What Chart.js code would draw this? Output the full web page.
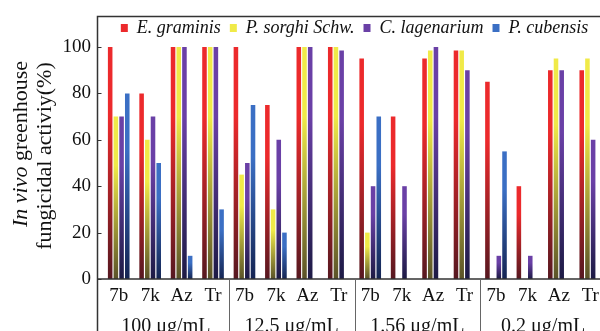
<!DOCTYPE html>
<html>
<head>
<meta charset="utf-8">
<script src="https://cdn.jsdelivr.net/npm/chart.js@4.4.1/dist/chart.umd.min.js"></script>
<style>
html, body { margin: 0; padding: 0; background: #fff; overflow: hidden; }
#wrap { width: 600px; height: 331px; overflow: hidden; }
</style>
</head>
<body>
<div id="wrap"><canvas id="chart" width="612" height="331"></canvas></div>
<script>
var compounds = ['7b', '7k', 'Az', 'Tr'];
var concentrations = ['100 μg/mL', '12.5 μg/mL', '1.56 μg/mL', '0.2 μg/mL'];
var seriesNames = ['E. graminis', 'P. sorghi Schw.', 'C. lagenarium', 'P. cubensis'];

// values per bar: 7b 7k Az Tr for each concentration
var eGraminis   = [100, 80, 100, 100,  100, 75, 100, 100,   95, 70,  95, 98.5,  85, 40, 90, 90];
var pSorghi     = [70,  60, 100, 100,  45,  30, 100, 100,   20,  0, 98.5, 98.5,  0,  0, 95, 95];
var cLagenarium = [70,  70, 100, 100,  50,  60, 100, 98.5,  40, 40, 100,  90,   10, 10, 90, 60];
var pCubensis   = [80,  50,  10,  30,  75,  20,   0,   0,   70,  0,   0,   0,   55,  0,  0,  0];

var yTicks = [0, 20, 40, 60, 80, 100];

var labels = [];
concentrations.forEach(function () {
    compounds.forEach(function (c) { labels.push(c); });
});

var SERIF = '"Liberation Serif", "Times New Roman", serif';
var INK = '#111';

// bright at the top of each bar, dark at its foot
function barFill(top, bottom)
{
    return function (ctx) {
        var chart = ctx.chart;
        if (ctx.type !== 'data' || !chart.chartArea) return top;
        var y = chart.scales.y;
        var y0 = y.getPixelForValue(ctx.parsed.y);
        var y1 = y.getPixelForValue(0);
        if (y1 - y0 < 1) return top;
        var g = chart.ctx.createLinearGradient(0, y0, 0, y1);
        g.addColorStop(0, top);
        g.addColorStop(0.3, top);
        g.addColorStop(1, bottom);
        return g;
    };
}

var framePlugin = {
    id: 'frame',
    afterDraw: function (chart) {
        var c = chart.ctx;
        var a = chart.chartArea;
        var xs = chart.scales.x;
        var ys = chart.scales.y;
        var left = 97.5, top = 16.5;
        c.save();
        c.strokeStyle = '#333';
        c.lineWidth = 1.5;
        c.beginPath();
        c.moveTo(left, chart.height);
        c.lineTo(left, top);
        c.lineTo(chart.width, top);
        c.moveTo(left, a.bottom);
        c.lineTo(chart.width, a.bottom);
        c.stroke();

        // short ticks pointing inward
        c.lineWidth = 1;
        c.beginPath();
        yTicks.forEach(function (v) {
            var py = Math.round(ys.getPixelForValue(v)) + 0.5;
            c.moveTo(left, py);
            c.lineTo(left + 4, py);
        });
        c.stroke();

        // group separators and concentration labels
        var catW = a.width / labels.length;
        c.strokeStyle = '#666';
        c.fillStyle = INK;
        c.font = '20px ' + SERIF;
        c.textAlign = 'center';
        c.textBaseline = 'alphabetic';
        concentrations.forEach(function (name, g) {
            var first = g * compounds.length;
            var last = first + compounds.length - 1;
            var x0 = xs.getPixelForValue(first) - catW / 2;
            var x1 = xs.getPixelForValue(last) + catW / 2;
            if (g > 0) {
                var sx = Math.round(x0) + 0.5;
                c.beginPath();
                c.moveTo(sx, a.bottom);
                c.lineTo(sx, chart.height);
                c.stroke();
            }
            c.fillText(name, (x0 + x1) / 2, chart.height + 1);
        });

        // y axis title, two lines, "In vivo" in italics
        var it = 'italic 22px ' + SERIF;
        var rm = '22px ' + SERIF;
        c.textBaseline = 'middle';
        c.save();
        c.translate(21, 144);
        c.rotate(-Math.PI / 2);
        c.font = it;
        var w1 = c.measureText('In vivo').width;
        c.font = rm;
        var w2 = c.measureText(' greenhouse').width;
        var sx0 = -(w1 + w2) / 2;
        c.textAlign = 'left';
        c.font = it;
        c.fillText('In vivo', sx0, 0);
        c.font = rm;
        c.fillText(' greenhouse', sx0 + w1, 0);
        c.restore();
        c.save();
        c.translate(45, 156);
        c.rotate(-Math.PI / 2);
        c.font = rm;
        c.textAlign = 'center';
        c.fillText('fungicidal activiy(%)', 0, 0);
        c.restore();

        c.restore();
    }
};

var ctx = document.getElementById('chart').getContext('2d');
var myChart = new Chart(ctx, {
    type: 'bar',
    data: {
        labels: labels,
        datasets: [
            { label: seriesNames[0], data: eGraminis,   backgroundColor: barFill('#ec2a2c', '#561820') },
            { label: seriesNames[1], data: pSorghi,     backgroundColor: barFill('#f0ea48', '#5a5228') },
            { label: seriesNames[2], data: cLagenarium, backgroundColor: barFill('#6a40a6', '#1c1a44') },
            { label: seriesNames[3], data: pCubensis,   backgroundColor: barFill('#3b6fc4', '#142452') }
        ]
    },
    options: {
        responsive: false,
        animation: false,
        layout: { padding: { top: 10, right: 6, left: 0, bottom: 0 } },
        datasets: {
            bar: { categoryPercentage: 0.725, barPercentage: 0.8 }
        },
        plugins: {
            tooltip: { enabled: false },
            legend: {
                position: 'top',
                fullSize: false,
                labels: {
                    boxWidth: 7,
                    boxHeight: 8,
                    padding: 9,
                    color: INK,
                    font: { family: SERIF, size: 18, style: 'italic' }
                }
            }
        },
        scales: {
            x: {
                grid: { display: false, drawTicks: false },
                border: { display: false },
                ticks: {
                    color: INK,
                    padding: 6,
                    maxRotation: 0,
                    autoSkip: false,
                    font: { family: SERIF, size: 19 }
                },
                afterFit: function (s) { s.height = 52; }
            },
            y: {
                min: 0,
                max: 100,
                grid: { display: false, drawTicks: false },
                border: { display: false },
                ticks: {
                    color: INK,
                    padding: 12,
                    font: { family: SERIF, size: 19 }
                },
                afterBuildTicks: function (s) {
                    s.ticks = yTicks.map(function (v) { return { value: v }; });
                },
                afterFit: function (s) { s.width = 103; }
            }
        }
    },
    plugins: [framePlugin]
});
</script>
</body>
</html>
